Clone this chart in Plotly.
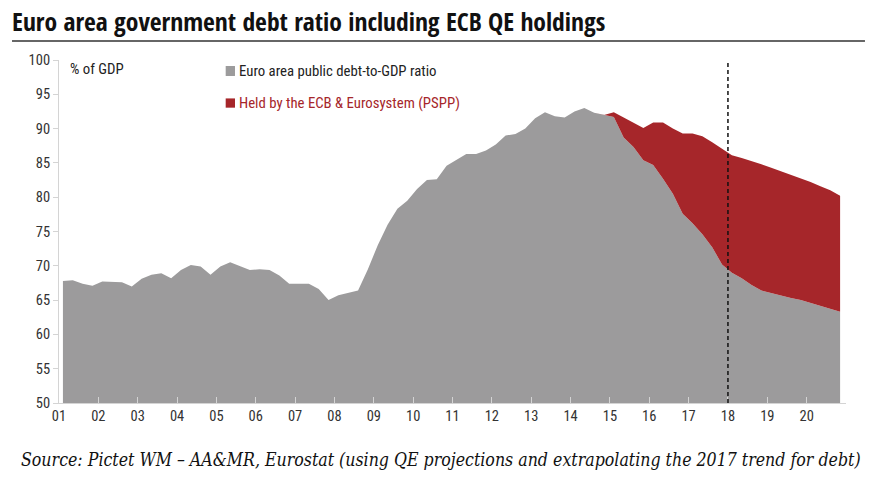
import plotly.graph_objects as go

# Quarterly observations, decimal-year positions (2001Q1 ... 2020Q4)
quarters = [round(2001.1 + 0.25 * k, 3) for k in range(80)]

# Euro area public debt-to-GDP ratio (% of GDP), excluding ECB holdings after 2015
debt_ratio = [
    67.8, 67.9, 67.4, 67.1, 67.7, 67.7, 67.6, 67.0,
    68.1, 68.7, 68.9, 68.2, 69.4, 70.1, 69.9, 68.7,
    69.9, 70.5, 70.0, 69.4, 69.5, 69.4, 68.6, 67.4,
    67.4, 67.4, 66.6, 65.0, 65.7, 66.1, 66.4, 69.5,
    73.0, 76.0, 78.3, 79.5, 81.2, 82.5, 82.6, 84.6,
    85.5, 86.3, 86.3, 86.8, 87.7, 89.0, 89.2, 90.0,
    91.5, 92.4, 91.8, 91.6, 92.5, 93.0, 92.3, 92.0,
    91.7, 88.7, 87.3, 85.4, 84.7, 82.7, 80.5, 77.6,
    76.2, 74.6, 72.7, 70.2, 69.0, 68.2, 67.2, 66.4,
    66.0, 65.7, 65.3, 65.0, 64.6, 64.2, 63.8, 63.3,
]

# Held by the ECB & Eurosystem (PSPP), % of GDP
ecb_holdings = [
    0, 0, 0, 0, 0, 0, 0, 0,
    0, 0, 0, 0, 0, 0, 0, 0,
    0, 0, 0, 0, 0, 0, 0, 0,
    0, 0, 0, 0, 0, 0, 0, 0,
    0, 0, 0, 0, 0, 0, 0, 0,
    0, 0, 0, 0, 0, 0, 0, 0,
    0, 0, 0, 0, 0, 0, 0, 0,
    0.7, 2.9, 3.5, 4.7, 6.2, 8.2, 9.5, 11.7,
    13.1, 14.3, 15.3, 16.8, 17.1, 17.5, 18.1, 18.4,
    18.3, 18.1, 18.0, 17.8, 17.6, 17.4, 17.2, 16.9,
]

tick_years = list(range(2001, 2021))
tick_labels = ["01", "02", "03", "04", "05", "06", "07", "08", "09", "10",
               "11", "12", "13", "14", "15", "16", "17", "18", "19", "20"]
y_ticks = [50, 55, 60, 65, 70, 75, 80, 85, 90, 95, 100]
forecast_start = 2018

GREY = "#9c9b9c"
RED = "#a6262a"
NARROW = "Roboto Condensed, DejaVu Sans Condensed, sans-serif"
TITLE_FONT = "Open Sans Condensed, Roboto Condensed, sans-serif"
SERIF = "DejaVu Serif Condensed, DejaVu Serif, serif"

fig = go.Figure()
fig.add_trace(go.Scatter(
    x=quarters, y=debt_ratio, mode="lines", stackgroup="one",
    line=dict(width=0, color=GREY), fillcolor=GREY,
    name="Euro area public debt-to-GDP ratio", hoverinfo="x+y",
))
fig.add_trace(go.Scatter(
    x=quarters, y=ecb_holdings, mode="lines", stackgroup="one",
    line=dict(width=0, color=RED), fillcolor=RED,
    name="Held by the ECB & Eurosystem (PSPP)", hoverinfo="x+y",
))

fig.add_shape(type="line", xref="x", yref="y", x0=forecast_start, x1=forecast_start,
              y0=50, y1=100, line=dict(color="#111111", width=1.5, dash="4px,3px"))

# title rule
fig.add_shape(type="line", xref="paper", yref="paper", x0=-0.0597, x1=1.0241,
              y0=1.0554, y1=1.0554, line=dict(color="#333333", width=1.5))

# legend-like squares and labels
fig.add_shape(type="rect", xref="paper", yref="paper", x0=0.2118, x1=0.2236,
              y0=0.9534, y1=0.9825, fillcolor=GREY, line=dict(width=0))
fig.add_shape(type="rect", xref="paper", yref="paper", x0=0.2118, x1=0.2236,
              y0=0.861, y1=0.888, fillcolor=RED, line=dict(width=0))
fig.add_annotation(xref="paper", yref="paper", x=0.2262, y=0.968,
                   text="Euro area public debt-to-GDP ratio", showarrow=False,
                   xanchor="left", yanchor="middle",
                   font=dict(family=NARROW, size=14.8, color="#222222"))
fig.add_annotation(xref="paper", yref="paper", x=0.2262, y=0.8746,
                   text="Held by the ECB & Eurosystem (PSPP)", showarrow=False,
                   xanchor="left", yanchor="middle",
                   font=dict(family=NARROW, size=14.8, color="#a6262a"))
fig.add_annotation(xref="paper", yref="paper", x=0.0118, y=0.9738,
                   text="% of GDP", showarrow=False,
                   xanchor="left", yanchor="middle",
                   font=dict(family=NARROW, size=14.8, color="#222222"))

# title
fig.add_annotation(xref="paper", yref="paper", x=-0.062, y=1.111,
                   text="<b>Euro area government debt ratio including ECB QE holdings</b>",
                   showarrow=False, xanchor="left", yanchor="middle",
                   font=dict(family=TITLE_FONT, size=25.6, color="#111111"))
# source
fig.add_annotation(xref="paper", yref="paper", x=-0.051, y=-0.166,
                   text="<i>Source: Pictet WM – AA&MR, Eurostat (using QE projections and extrapolating the 2017 trend for debt)</i>",
                   showarrow=False, xanchor="left", yanchor="middle",
                   font=dict(family=SERIF, size=17.6, color="#111111"))

fig.update_layout(
    width=879, height=487,
    margin=dict(l=59, r=33, t=60, b=84),
    paper_bgcolor="white", plot_bgcolor="white",
    showlegend=False,
    xaxis=dict(range=[2001, 2021], tickvals=tick_years, ticktext=tick_labels,
               showgrid=False, zeroline=False, showline=True, linecolor="#d4d4d4",
               linewidth=1, ticks="inside", ticklen=6, tickcolor="#d4d4d4",
               tickfont=dict(family=NARROW, size=14.5, color="#333333")),
    yaxis=dict(range=[50, 100], tickvals=y_ticks, showgrid=False, zeroline=False,
               showline=True, linecolor="#d4d4d4", linewidth=1, ticks="outside",
               ticklen=5, tickcolor="#d4d4d4",
               tickfont=dict(family=NARROW, size=14.5, color="#333333")),
)

fig.write_html("out.html", config={"displayModeBar": False},
               post_script="document.body.style.margin='0';")
